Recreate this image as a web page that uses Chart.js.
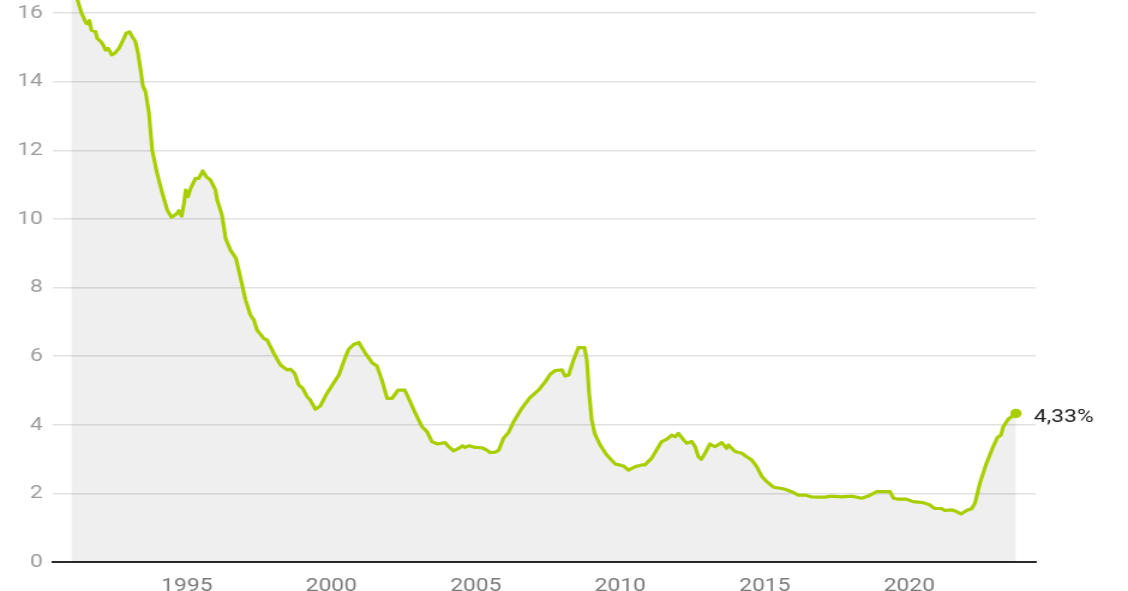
<!DOCTYPE html>
<html><head><meta charset="utf-8">
<script src="https://cdn.jsdelivr.net/npm/chart.js@4.4.1/dist/chart.umd.min.js"></script>
<style>
html,body{margin:0;padding:0;background:#fff;overflow:hidden;}
#wrap{position:absolute;left:0;top:0;width:940px;height:591px;transform:scaleX(1.2);transform-origin:0 0;}
</style></head><body>
<div id="wrap"><canvas id="c"></canvas></div>
<script>
const YEARS = [
1991.00,1991.23,1991.36,1991.52,1991.60,1991.63,1991.70,1991.84,1991.90,1992.02,
1992.10,1992.19,1992.28,1992.40,1992.51,1992.65,1992.76,1992.90,1993.02,1993.11,
1993.22,1993.31,1993.40,1993.48,1993.57,1993.69,1993.80,1993.97,1994.15,1994.32,
1994.47,1994.66,1994.72,1994.82,1994.90,1994.96,1995.04,1995.13,1995.30,1995.41,
1995.55,1995.67,1995.82,1995.99,1996.05,1996.22,1996.34,1996.51,1996.70,1996.86,
1997.03,1997.20,1997.32,1997.43,1997.66,1997.78,1998.01,1998.24,1998.47,1998.58,
1998.73,1998.87,1999.01,1999.16,1999.27,1999.45,1999.62,1999.85,2000.08,2000.26,
2000.49,2000.60,2000.77,2000.95,2001.18,2001.41,2001.58,2001.75,2001.93,2002.10,
2002.31,2002.54,2002.73,2002.91,2003.14,2003.31,2003.48,2003.66,2003.94,2004.06,
2004.23,2004.40,2004.54,2004.63,2004.77,2004.98,2005.21,2005.38,2005.49,2005.67,
2005.79,2005.96,2006.13,2006.31,2006.59,2006.88,2007.17,2007.40,2007.58,2007.75,
2007.98,2008.09,2008.21,2008.38,2008.55,2008.76,2008.84,2008.92,2009.01,2009.11,
2009.30,2009.53,2009.82,2010.11,2010.28,2010.52,2010.74,2010.85,2011.08,2011.43,
2011.61,2011.78,2011.90,2012.01,2012.19,2012.30,2012.47,2012.59,2012.70,2012.80,
2012.93,2013.10,2013.27,2013.51,2013.68,2013.74,2013.97,2014.20,2014.37,2014.55,
2014.72,2014.90,2015.07,2015.30,2015.53,2015.70,2015.93,2016.16,2016.39,2016.60,
2016.85,2017.08,2017.31,2017.66,2018.00,2018.35,2018.58,2018.87,2019.15,2019.33,
2019.45,2019.62,2019.90,2020.13,2020.48,2020.71,2020.88,2021.11,2021.23,2021.46,
2021.63,2021.79,2021.98,2022.16,2022.27,2022.44,2022.67,2022.90,2023.05,2023.17,
2023.25,2023.42,2023.69
];
const RATES = [
17.00,16.35,15.99,15.70,15.68,15.78,15.50,15.46,15.26,15.17,
15.08,14.92,14.97,14.78,14.83,14.97,15.15,15.41,15.45,15.31,
15.17,14.83,14.34,13.87,13.71,13.08,12.01,11.33,10.75,10.26,
10.05,10.16,10.24,10.08,10.45,10.84,10.65,10.89,11.18,11.18,
11.40,11.23,11.13,10.84,10.55,10.10,9.43,9.09,8.85,8.27,
7.64,7.20,7.05,6.76,6.52,6.47,6.08,5.74,5.60,5.62,
5.50,5.16,5.06,4.82,4.72,4.45,4.55,4.92,5.22,5.45,
5.98,6.20,6.34,6.40,6.08,5.81,5.71,5.30,4.77,4.77,
5.01,5.01,4.67,4.33,3.94,3.80,3.51,3.44,3.48,3.36,
3.24,3.31,3.39,3.34,3.39,3.34,3.33,3.26,3.19,3.20,
3.26,3.61,3.77,4.09,4.48,4.80,5.01,5.25,5.48,5.58,
5.60,5.42,5.45,5.89,6.25,6.25,5.89,4.92,4.14,3.75,
3.41,3.12,2.86,2.80,2.68,2.78,2.83,2.83,3.02,3.51,
3.58,3.70,3.65,3.75,3.56,3.46,3.51,3.36,3.07,2.99,
3.17,3.44,3.36,3.48,3.31,3.41,3.22,3.17,3.07,2.97,
2.78,2.49,2.34,2.18,2.15,2.12,2.05,1.95,1.95,1.90,
1.89,1.89,1.92,1.90,1.92,1.86,1.92,2.05,2.05,2.05,
1.86,1.83,1.83,1.76,1.73,1.66,1.56,1.56,1.50,1.52,
1.47,1.40,1.50,1.56,1.71,2.29,2.88,3.36,3.63,3.70,
3.94,4.16,4.33
];
const X_TICKS = [1995, 2000, 2005, 2010, 2015, 2020];
const Y_TICKS = [0, 2, 4, 6, 8, 10, 12, 14, 16];
const END_LABEL = '4,33%';

const GREEN = 'rgb(168,206,0)';
const FONT = 'Roboto';

const endLabel = {
  id: 'endLabel',
  afterDatasetsDraw(chart) {
    const meta = chart.getDatasetMeta(0);
    const p = meta.data[meta.data.length - 1];
    const ctx = chart.ctx;
    ctx.save();
    ctx.font = '19px ' + FONT;
    ctx.fillStyle = '#222';
    ctx.textAlign = 'left';
    ctx.textBaseline = 'middle';
    ctx.fillText(END_LABEL, p.x + 15, p.y + 3.5);
    ctx.restore();
  }
};

new Chart(document.getElementById('c'), {
  type: 'line',
  data: {
    datasets: [{
      data: YEARS.map((y, i) => ({x: y, y: RATES[i]})),
      borderColor: GREEN,
      borderWidth: 3.2,
      borderJoinStyle: 'round',
      borderCapStyle: 'round',
      fill: 'origin',
      backgroundColor: 'rgba(0,0,0,0.063)',
      tension: 0,
      pointRadius: YEARS.map((y, i) => i === YEARS.length - 1 ? 4.7 : 0),
      pointBackgroundColor: GREEN,
      pointBorderWidth: 0,
      pointHoverRadius: 0
    }]
  },
  options: {
    responsive: true,
    maintainAspectRatio: false,
    animation: false,
    events: [],
    layout: {autoPadding: false, padding: {left: 0, right: 77, top: 0, bottom: 0}},
    plugins: {legend: {display: false}, tooltip: {enabled: false}},
    scales: {
      x: {
        type: 'linear',
        min: 1990.37,
        max: 2024.37,
        afterBuildTicks: s => { s.ticks = X_TICKS.map(v => ({value: v})); },
        afterFit: s => { s.height = 29; s.paddingLeft = 0; s.paddingRight = 0; },
        grid: {display: false, drawTicks: false},
        border: {display: true, color: '#2a2a2a', width: 2},
        ticks: {
          color: '#7a7a7a',
          font: {family: FONT, size: 19},
          padding: 13,
          maxRotation: 0,
          autoSkip: false,
          callback: v => String(v)
        }
      },
      y: {
        min: 0,
        max: 16.38,
        afterBuildTicks: s => { s.ticks = Y_TICKS.map(v => ({value: v})); },
        afterFit: s => { s.width = 44.2; s.paddingTop = 0; s.paddingBottom = 0; },
        grid: {color: '#e2e2e2', lineWidth: 1.5, drawTicks: false},
        border: {display: false},
        ticks: {
          color: '#9c9c9c',
          font: {family: FONT, size: 19},
          padding: 8.4,
          callback: v => String(v)
        }
      }
    }
  },
  plugins: [endLabel]
});
</script>
</body></html>
